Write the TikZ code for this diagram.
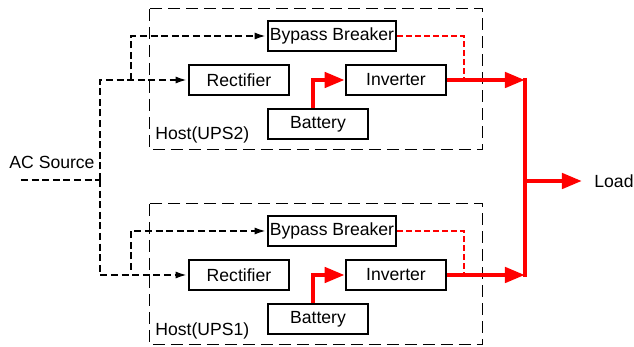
\documentclass[tikz,border=0pt]{standalone}
\usepackage{fontspec}
\setmainfont{Liberation Sans}
\usetikzlibrary{arrows.meta}
\tikzset{
  blk/.style={draw, line width=1.3pt, minimum width=50pt, minimum height=15pt, inner sep=0pt, font=\fontsize{8.8}{10}\selectfont},
  host/.style={draw, line width=0.5pt, dash pattern=on 6pt off 3pt},
  acline/.style={line width=1.2pt, dash pattern=on 3.5pt off 1.8pt, -{Latex[length=6pt,width=3.5pt]}},
  pwr/.style={red, line width=2.2pt, -{Triangle[length=10pt,width=7.5pt]}},
  bypwr/.style={red, line width=1pt, dash pattern=on 3pt off 1.5pt},
  lbl/.style={font=\fontsize{8.8}{10}\selectfont, inner sep=0pt}
}
\begin{document}
\begin{tikzpicture}[x=0.5pt,y=-0.5pt]
    \useasboundingbox (0,0) rectangle (634,347);

    % Host frames
    \draw[host] (150,9) rectangle (483,150);
    \draw[host] (150,204) rectangle (483,345);
    \node[lbl, anchor=west] (host2) at (155,135) {Host(UPS2)};
    \node[lbl, anchor=west] (host1) at (155,331) {Host(UPS1)};

    % Blocks, UPS2
    \node[blk, minimum width=64pt] (bp2) at (332,36) {Bypass Breaker};
    \node[blk] (rect2) at (239,80) {Rectifier};
    \node[blk] (inv2) at (396,80) {Inverter};
    \node[blk] (bat2) at (318,124) {Battery};

    % Blocks, UPS1
    \node[blk, minimum width=64pt] (bp1) at (332,231) {Bypass Breaker};
    \node[blk] (rect1) at (239,275) {Rectifier};
    \node[blk] (inv1) at (396,275) {Inverter};
    \node[blk] (bat1) at (318,319) {Battery};

    % AC source and its feed
    \node[lbl] (ac) at (52,162) {AC Source};
    \coordinate (acin) at (21,180);
    \coordinate (split) at (100,180);
    \coordinate (br2) at (131,80);
    \coordinate (br1) at (131,270);
    \draw[acline, -] (acin) -- (split);
    \draw[acline] (split) |- (rect2.west);
    \draw[acline] (split) |- (rect1.west);
    \draw[acline] (br2) |- (bp2.west);
    \draw[acline] (br1) |- (bp1.west);

    % Bypass outputs
    \coordinate (tap2) at (464,80);
    \coordinate (tap1) at (464,275);
    \draw[bypwr] (bp2.east) -| (tap2);
    \draw[bypwr] (bp1.east) -| (tap1);

    % Battery to inverter
    \draw[pwr] ([xshift=-2.5pt]bat2.north) |- (inv2.west);
    \draw[pwr] ([xshift=-2.5pt]bat1.north) |- (inv1.west);

    % Inverter outputs to the bus
    \coordinate (bus2) at (525,80);
    \coordinate (bus1) at (525,275);
    \coordinate (busmid) at (525,181);
    \draw[pwr] (inv2.east) -- (bus2);
    \draw[pwr] (inv1.east) -- (bus1);
    \draw[red, line width=2.2pt] ([yshift=1.1pt]bus2) -- ([yshift=-1.1pt]bus1);

    % Load
    \node[lbl, anchor=west] (load) at (594,181) {Load};
    \draw[pwr] (busmid) -- ([xshift=-6pt]load.west);
\end{tikzpicture}
\end{document}
